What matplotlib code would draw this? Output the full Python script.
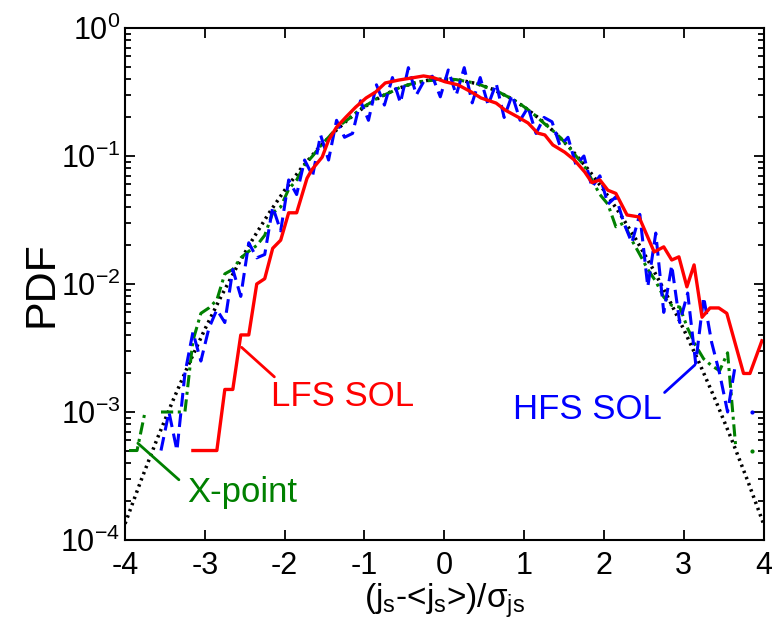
import numpy as np
import matplotlib
matplotlib.use('Agg')
import matplotlib.pyplot as plt

plt.rcParams['font.family'] = ['Liberation Sans', 'DejaVu Sans']
plt.rcParams['mathtext.fontset'] = 'custom'
plt.rcParams['mathtext.rm'] = 'Liberation Sans'
plt.rcParams['mathtext.it'] = 'Liberation Sans'
plt.rcParams['mathtext.sf'] = 'Liberation Sans'
plt.rcParams['axes.unicode_minus'] = False

# gaussian reference
gauss_x = [-4.0, -3.8, -3.6, -3.4, -3.2, -3.0, -2.8, -2.6, -2.4, -2.2, -2.0,
           -1.8, -1.6, -1.4, -1.2, -1.0, -0.8, -0.6, -0.4, -0.2, 0.0,
           0.2, 0.4, 0.6, 0.8, 1.0, 1.2, 1.4, 1.6, 1.8, 2.0,
           2.2, 2.4, 2.6, 2.8, 3.0, 3.2, 3.4, 3.6, 3.8, 4.0]
gauss_y = [1.34e-4, 2.92e-4, 6.12e-4, 1.23e-3, 2.38e-3, 4.43e-3, 7.92e-3, 0.0136, 0.0224, 0.0355, 0.054,
           0.079, 0.1109, 0.1497, 0.1942, 0.242, 0.2897, 0.3332, 0.3683, 0.391, 0.3989,
           0.391, 0.3683, 0.3332, 0.2897, 0.242, 0.1942, 0.1497, 0.1109, 0.079, 0.054,
           0.0355, 0.0224, 0.0136, 7.92e-3, 4.43e-3, 2.38e-3, 1.23e-3, 6.12e-4, 2.92e-4, 1.34e-4]

# LFS SOL (red)
lfs_x = [-3.15, -2.85, -2.75, -2.65, -2.55, -2.45, -2.35, -2.25, -2.15, -2.05,
         -1.95, -1.85, -1.72, -1.66, -1.53, -1.45, -1.35, -1.23, -1.11, -0.98,
         -0.86, -0.74, -0.57, -0.41, -0.26, -0.14, 0.01, 0.17, 0.34, 0.46,
         0.65, 0.76, 0.92, 1.05, 1.17, 1.26, 1.36, 1.51, 1.63, 1.76,
         1.85, 1.95, 2.05, 2.15, 2.29, 2.44, 2.63, 2.75, 2.85, 2.94,
         3.04, 3.13, 3.23, 3.33, 3.44, 3.54, 3.75, 3.83, 3.98]
lfs_y = [5e-4, 5e-4, 1.5e-3, 1.5e-3, 4e-3, 4e-3, 1.0e-2, 1.1e-2, 1.9e-2, 2.2e-2,
         3.6e-2, 3.6e-2, 6.7e-2, 7.8e-2, 9.8e-2, 0.133, 0.168, 0.202, 0.241, 0.284,
         0.316, 0.372, 0.392, 0.407, 0.422, 0.41, 0.38, 0.36, 0.316, 0.284,
         0.259, 0.229, 0.202, 0.181, 0.151, 0.146, 0.122, 0.107, 0.093, 0.075,
         0.062, 0.065, 0.054, 0.051, 0.0346, 0.0334, 0.0178, 0.0195, 0.0154, 0.0163,
         0.0095, 0.0141, 0.0055, 0.0065, 0.0065, 0.0059, 0.0020, 0.0020, 0.0036]

# HFS SOL (blue), bins of 0.1 starting at -3.55
hfs_y = [5e-4, 1.0e-3, 5e-4, 2.0e-3, 4.2e-3, 2.5e-3, 4.5e-3, 6.3e-3, 5.0e-3, 1.3e-2,
         8.0e-3, 2.1e-2, 1.6e-2, 1.7e-2, 4.0e-2, 2.6e-2, 6.5e-2, 5.0e-2, 9.3e-2, 7.0e-2,
         0.146, 0.093, 0.19, 0.14, 0.15, 0.27, 0.19, 0.36, 0.25, 0.41,
         0.26, 0.49, 0.30, 0.39, 0.42, 0.29, 0.47, 0.30, 0.49, 0.26,
         0.41, 0.25, 0.37, 0.20, 0.30, 0.19, 0.24, 0.15, 0.20, 0.185,
         0.12, 0.14, 0.085, 0.10, 0.057, 0.07, 0.042, 0.048, 0.030, 0.021,
         0.035, 0.0095, 0.025, 0.006, 0.014, 0.005, 0.0085, 0.0024, 0.0079, 0.0035,
         0.002, 0.001, 0.0024, np.nan, 0.001]
hfs_x = np.round(-3.55 + 0.1 * np.arange(len(hfs_y)), 2)

# X-point (green), bins of 0.1 starting at -3.95
xpt_y = [5e-4, 5e-4, 1e-3, np.nan, 1e-3, 1e-3, 1e-3, 1e-3, 3.6e-3, 5.9e-3,
         6.5e-3, 7.5e-3, 1.2e-2, 1.3e-2, 1.6e-2, 1.8e-2, 2.0e-2, 2.4e-2, 3.6e-2, 4.0e-2,
         5.5e-2, 6.5e-2, 8.5e-2, 0.10, 0.12, 0.14, 0.165, 0.185, 0.205, 0.235,
         0.255, 0.28, 0.30, 0.32, 0.345, 0.36, 0.375, 0.385, 0.39, 0.40,
         0.40, 0.395, 0.385, 0.375, 0.36, 0.34, 0.325, 0.30, 0.28, 0.255,
         0.23, 0.205, 0.18, 0.16, 0.14, 0.12, 0.10, 0.085, 0.065, 0.050,
         0.042, 0.028, 0.030, 0.022, 0.017, 0.013, 0.0105, 0.0079, 0.0068, 0.0066,
         0.0045, 0.0033, 0.0026, 0.0023, 0.0021, 0.0029, 5.5e-4, np.nan, 5e-4]
xpt_x = np.round(-3.95 + 0.1 * np.arange(len(xpt_y)), 2)

fig = plt.figure(figsize=(7.72, 6.29), dpi=100)
ax = fig.add_axes([0.162, 0.1415, 0.827, 0.814])

ax.plot(gauss_x, gauss_y, color='black', linewidth=2.5, linestyle=(0, (0.7, 1.2)))
ax.plot(xpt_x, xpt_y, color='#008000', linewidth=2.2, linestyle=(0, (4, 1.5, 1, 1.5)))
ax.plot(xpt_x[-1], xpt_y[-1], '.', color='#008000', markersize=4)
ax.plot(hfs_x, hfs_y, color='#0000ff', linewidth=2.2, linestyle=(0, (4.5, 2.2)))
ax.plot(hfs_x[-1], hfs_y[-1], '.', color='#0000ff', markersize=4)
ax.plot(lfs_x, lfs_y, color='#ff0000', linewidth=2.4)

ax.set_yscale('log')
ax.set_xlim(-4, 4)
ax.set_ylim(1e-4, 1)
ax.set_xticks([-4, -3, -2, -1, 0, 1, 2, 3, 4])
ax.tick_params(which='both', direction='in', top=True, right=True, labelsize=22, width=1.3)
ax.tick_params(which='major', length=7)
ax.tick_params(which='minor', length=4)
ax.tick_params(axis='x', pad=8)
for s in ax.spines.values():
    s.set_linewidth(1.5)

ax.set_ylabel('PDF', fontsize=31)
ax.yaxis.set_label_coords(-0.10, 0.5)
ax.set_xlabel(r'(j$_\mathrm{s}$-<j$_\mathrm{s}$>)/$\sigma_\mathrm{js}$', fontsize=24, labelpad=0)

ax.annotate('LFS SOL', xy=(-2.54, 3.2e-3), xytext=(-2.17, 1.33e-3), fontsize=25,
            color='#ff0000', va='center', ha='left',
            arrowprops=dict(arrowstyle='-', color='#ff0000', lw=2, shrinkA=0, shrinkB=0,
                            relpos=(0.07, 0.9)))
ax.annotate('HFS SOL', xy=(3.14, 2.33e-3), xytext=(0.86, 1.05e-3), fontsize=25,
            color='#0000ff', va='center', ha='left',
            arrowprops=dict(arrowstyle='-', color='#0000ff', lw=2, shrinkA=0, shrinkB=0,
                            relpos=(0.98, 0.85)))
ax.annotate('X-point', xy=(-3.84, 5.7e-4), xytext=(-3.215, 2.33e-4), fontsize=25,
            color='#008000', va='center', ha='left',
            arrowprops=dict(arrowstyle='-', color='#008000', lw=2, shrinkA=0, shrinkB=0,
                            relpos=(-0.08, 0.9)))

fig.savefig('out.png', dpi=100)
